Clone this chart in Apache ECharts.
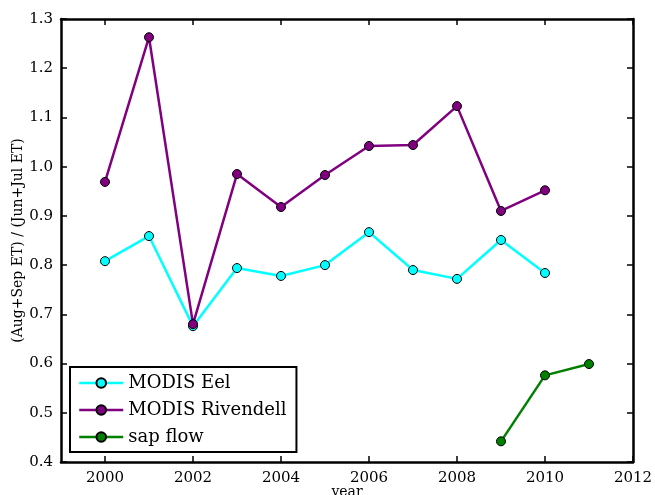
<!DOCTYPE html>
<html>
<head>
<meta charset="utf-8">
<script src="https://cdn.jsdelivr.net/npm/echarts@6/dist/echarts.min.js"></script>
<style>
  html, body { margin: 0; padding: 0; background: #fff; }
  #chart { width: 655px; height: 495px; }
</style>
</head>
<body>
<div id="chart"></div>
<script>
// values
var eelYears = [2000, 2001, 2002, 2003, 2004, 2005, 2006, 2007, 2008, 2009, 2010];
var eelValues = [0.808, 0.859, 0.676, 0.794, 0.778, 0.800, 0.867, 0.790, 0.772, 0.851, 0.784];
var rivYears = [2000, 2001, 2002, 2003, 2004, 2005, 2006, 2007, 2008, 2009, 2010];
var rivValues = [0.969, 1.263, 0.680, 0.985, 0.918, 0.983, 1.042, 1.044, 1.123, 0.910, 0.952];
var sapYears = [2009, 2010, 2011];
var sapValues = [0.442, 0.576, 0.599];
var xTicks = [2000, 2002, 2004, 2006, 2008, 2010, 2012];

function pairs(xs, ys) {
  return xs.map(function (x, i) { return [x, ys[i]]; });
}

var font = "DejaVu Serif";
var chart = echarts.init(document.getElementById("chart"));

var xBase = {
  type: "value",
  min: 1999,
  max: 2012,
  axisLine: { lineStyle: { color: "#000", width: 2.5 } },
  splitLine: { show: false },
  axisTick: { inside: true, length: 6, customValues: xTicks, lineStyle: { color: "#000", width: 1.5 } }
};
var yBase = {
  type: "value",
  min: 0.4,
  max: 1.3,
  interval: 0.1,
  axisLine: { lineStyle: { color: "#000", width: 2.5 } },
  splitLine: { show: false },
  axisTick: { inside: true, length: 6, lineStyle: { color: "#000", width: 1.5 } }
};

var option = {
  animation: false,
  grid: { left: 61, right: 22, top: 19, bottom: 33, outerBoundsMode: "none" },
  textStyle: { fontFamily: font },
  xAxis: [
    Object.assign({}, xBase, {
      position: "bottom",
      name: "year",
      nameLocation: "middle",
      nameGap: 23,
      nameMoveOverlap: false,
      nameTextStyle: { fontFamily: font, fontSize: 14, color: "#000" },
      axisLabel: {
        customValues: xTicks,
        fontFamily: font, fontSize: 15, color: "#000", margin: 9,
        formatter: function (v) { return String(v); }
      }
    }),
    Object.assign({}, xBase, { position: "top", axisLabel: { show: false } })
  ],
  yAxis: [
    Object.assign({}, yBase, {
      position: "left",
      name: "(Aug+Sep ET) / (Jun+Jul ET)",
      nameLocation: "middle",
      nameGap: 36,
      nameMoveOverlap: false,
      nameTextStyle: { fontFamily: font, fontSize: 14, color: "#000" },
      axisLabel: {
        fontFamily: font, fontSize: 15, color: "#000", margin: 8,
        formatter: function (v) { return v.toFixed(1); }
      }
    }),
    Object.assign({}, yBase, { position: "right", axisLabel: { show: false } })
  ],
  legend: {
    orient: "vertical",
    left: 70,
    top: 367,
    backgroundColor: "#fff",
    borderColor: "#000",
    borderWidth: 2,
    borderRadius: 0,
    padding: [7, 10, 6, 8],
    itemGap: 9,
    itemWidth: 44,
    itemHeight: 12,
    lineStyle: { width: 2.5 },
    textStyle: { fontFamily: font, fontSize: 18, color: "#000" },
    data: ["MODIS Eel", "MODIS Rivendell", "sap flow"]
  },
  series: [
    {
      name: "MODIS Eel",
      type: "line",
      data: pairs(eelYears, eelValues),
      symbol: "circle",
      symbolSize: 9,
      color: "#00ffff",
      lineStyle: { width: 2.5, color: "#00ffff" },
      itemStyle: { color: "#00ffff", borderColor: "#000", borderWidth: 1 },
      z: 3
    },
    {
      name: "MODIS Rivendell",
      type: "line",
      data: pairs(rivYears, rivValues),
      symbol: "circle",
      symbolSize: 9,
      color: "#800080",
      lineStyle: { width: 2.5, color: "#800080" },
      itemStyle: { color: "#800080", borderColor: "#000", borderWidth: 1 },
      z: 4
    },
    {
      name: "sap flow",
      type: "line",
      data: pairs(sapYears, sapValues),
      symbol: "circle",
      symbolSize: 9,
      color: "#008000",
      lineStyle: { width: 2.5, color: "#008000" },
      itemStyle: { color: "#008000", borderColor: "#000", borderWidth: 1 },
      z: 5
    }
  ]
};

chart.setOption(option);
</script>
</body>
</html>
